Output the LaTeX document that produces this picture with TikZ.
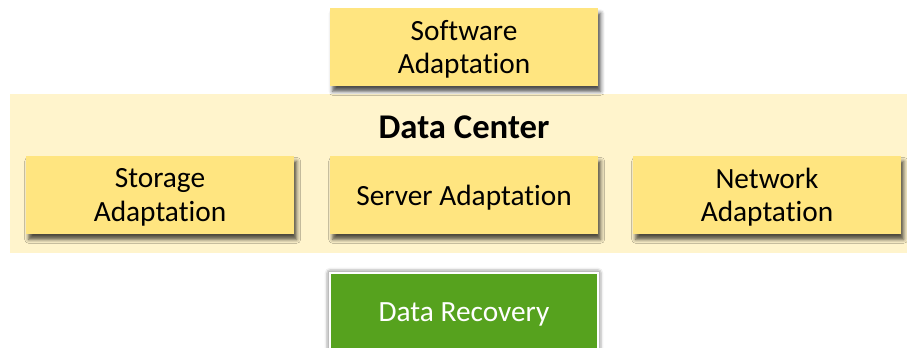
\documentclass[tikz,border=0pt]{standalone}
\usepackage{fontspec}
\setmainfont{Carlito}[Ligatures=NoCommon]
\usepackage{tikz}
\usetikzlibrary{shadows.blur}
\definecolor{boxyellow}{RGB}{255,229,128}
\definecolor{bandyellow}{RGB}{255,244,204}
\definecolor{recoverygreen}{RGB}{86,162,30}
\tikzset{
    adaptbox/.style={rectangle, fill=boxyellow, minimum width=201pt, minimum height=58.5pt,
        align=center, font=\fontsize{22}{25}\selectfont, inner sep=0pt, text depth=-1pt,
        blur shadow={shadow xshift=2pt, shadow yshift=-4pt, shadow blur radius=3pt, shadow opacity=70}},
    recoverybox/.style={adaptbox, fill=recoverygreen, draw=white, line width=0.8pt, text=white,
        blur shadow={shadow xshift=0pt, shadow yshift=0pt, shadow blur radius=4pt, shadow opacity=45}}
}

\begin{document}
\begin{tikzpicture}[x=0.75pt, y=-0.75pt]
        \useasboundingbox (0,0) rectangle (907,348);
        \clip (0,0) rectangle (907,348);

        % data center band
        \fill[bandyellow] (10,94) rectangle (907,253);
        \node[font=\fontsize{26}{30}\selectfont\bfseries] (center) at (464,127) {Data Center};

        % software layer on top
        \node[adaptbox] (software) at (464,47) {Software\\Adaptation};

        % three adaptations inside the data center
        \node[adaptbox] (storage) at (160,195) {Storage\\Adaptation};
        \node[adaptbox] (server) at (464,195) {Server Adaptation};
        \node[adaptbox] (network) at (767,195) {Network\\Adaptation};

        % recovery below
        \node[recoverybox] (recovery) at (464,312) {Data Recovery};
    \end{tikzpicture}
\end{document}
